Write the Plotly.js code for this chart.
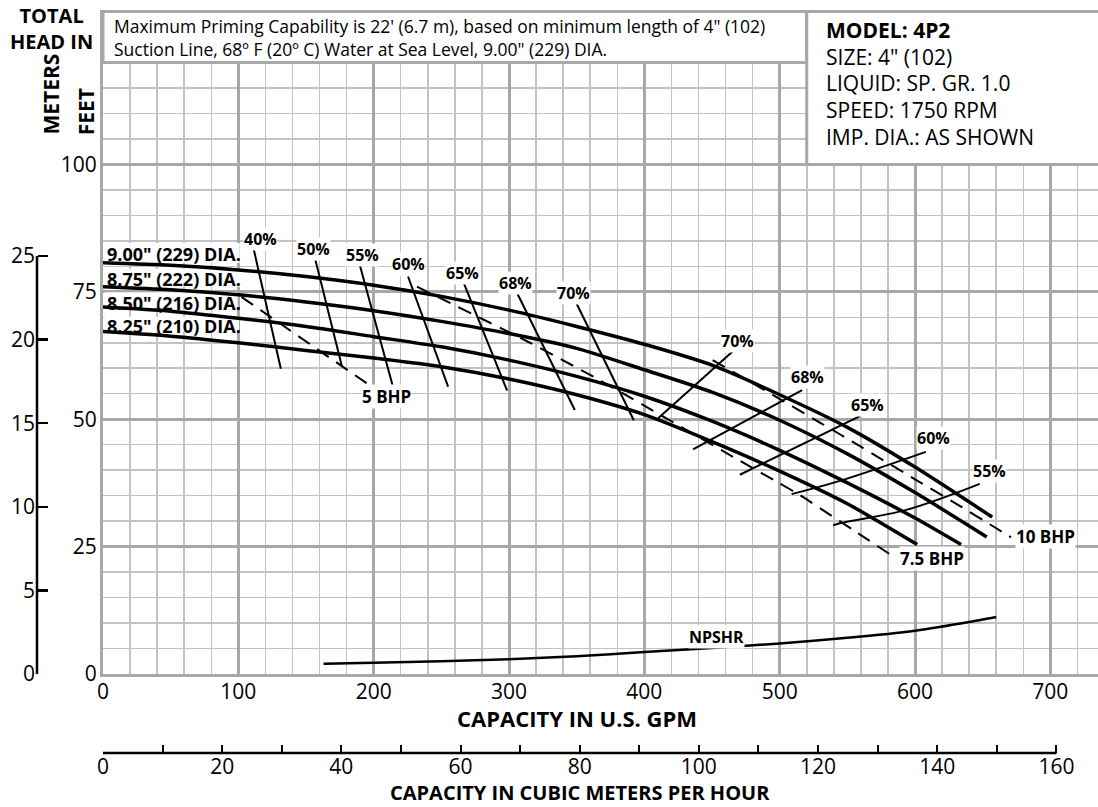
<!DOCTYPE html>
<html><head><meta charset="utf-8">
<script src="https://cdn.plot.ly/plotly-3.0.1.min.js"></script>
<style>html,body{margin:0;padding:0;background:#fff}</style>
</head><body><div id="chart" style="width:1098px;height:807px"></div>
<script>
// ---------- data ----------
const diameterLabels = ['9.00" (229) DIA.', '8.75" (222) DIA.', '8.50" (216) DIA.', '8.25" (210) DIA.'];
const q900 = [0, 50, 100, 150, 200, 250, 300, 350, 400, 450, 500, 550, 600, 657];
const h900 = [80.7, 80.2, 79.3, 78.0, 76.3, 74.1, 71.4, 68.2, 64.7, 60.6, 54.8, 48.4, 40.6, 30.8];
const q875 = [0, 50, 100, 150, 200, 250, 300, 350, 400, 450, 500, 550, 600, 653];
const h875 = [76.0, 75.4, 74.4, 73.0, 71.3, 69.2, 66.8, 63.9, 59.7, 55.3, 49.8, 43.2, 35.6, 26.9];
const q850 = [0, 50, 100, 150, 200, 250, 300, 350, 400, 450, 500, 550, 600, 634];
const h850 = [72.0, 71.2, 69.8, 68.2, 66.2, 64.2, 61.6, 58.4, 54.5, 49.6, 43.9, 37.5, 30.6, 25.4];
const q825 = [0, 50, 100, 150, 200, 250, 300, 350, 400, 450, 500, 550, 601.6];
const h825 = [67.2, 66.3, 65.0, 63.5, 62.0, 60.3, 57.9, 54.8, 50.9, 45.6, 39.8, 33.4, 25.4];
const diaQ = [q900, q875, q850, q825];
const diaH = [h900, h875, h850, h825];

const effLabels = ['40%', '50%', '55%', '60%', '65%', '68%', '70%', '70%', '68%', '65%', '60%', '55%'];
const effQ = [[110.9, 131.4], [157, 176.6], [189.7, 213.9], [225.4, 255], [266.6, 298.6], [305.5, 348.6], [349.9, 392.2],
              [410.2, 465.6], [436, 516.6], [470.6, 559.3], [508.8, 544.4, 608], [539.5, 544.4, 593.6, 647.8]];
const effH = [[83.9, 59.9], [81.2, 60.3], [80.3, 56.7], [78.0, 56.4], [76.7, 55.6], [75.0, 51.8], [72.7, 49.8],
              [50.2, 63.4], [44.1, 55.7], [39.1, 50.6], [35.3, 37.9, 43.6], [29.2, 29.6, 32.2, 37.3]];
const effLabelQ = [116.5, 155.7, 191.5, 226, 265.5, 304.8, 347.8, 468.7, 520.4, 564.8, 613.8, 655.3];
const effLabelH = [85.3, 83.4, 82.2, 80.5, 78.7, 76.7, 74.8, 65.3, 58.3, 52.8, 46.3, 39.8];

const bhpLabels = ['5 BHP', '7.5 BHP', '10 BHP'];
const bhp5Q = [102.3, 198.4];
const bhp5H = [74.0, 56.4];
const bhp75Q = [232, 314, 364.7, 399, 433.6, 465.6, 500, 515, 554, 581.4];
const bhp75H = [76.0, 65.2, 58.0, 52.8, 47.5, 42.6, 37.4, 35.1, 28.3, 23.5];
const bhp10Q = [450.5, 494, 530, 560, 600, 633, 660, 671];
const bhp10H = [61.6, 54.9, 49.3, 44.6, 38.2, 33.0, 28.6, 26.8];
const bhpLabelQ = [191, 588.3, 673.8];
const bhpLabelH = [54.5, 22.7, 26.9];

const npshQ = [163, 200, 250, 300, 350, 400, 450, 500, 550, 600, 640, 660];
const npshH = [2.0, 2.2, 2.5, 2.9, 3.5, 4.3, 5.1, 6.0, 7.1, 8.5, 10.2, 11.2];

const gpmTicks = [0, 100, 200, 300, 400, 500, 600, 700];
const feetTicks = [0, 25, 50, 75, 100];
const meterTicks = [0, 5, 10, 15, 20, 25];

const noteLines = ['Maximum Priming Capability is 22\' (6.7 m), based on minimum length of 4" (102)',
                   'Suction Line, 68º F (20º C) Water at Sea Level, 9.00" (229) DIA.'];
const modelLines = ['<b>MODEL: 4P2</b>', 'SIZE: 4" (102)', 'LIQUID: SP. GR. 1.0', 'SPEED: 1750 RPM', 'IMP. DIA.: AS SHOWN'];

// ---------- constants ----------
const FT_PER_M = 3.28084;
const GPM_PER_M3H = 4.40287;
const F = 'Open Sans, Noto Sans, sans-serif';
const GRID_MAJ = '#a8a8a8', GRID_MIN = '#c2c2c2';
const XMAX = 735.2, YMAX = 130.3;
// paper geometry helpers (margins l=37,t=10,b=54; plot area 1061 x 743)
const PW = 1061, PH = 743;
const px2paperX = p => (p - 37) / PW;
const py2paperY = p => (753 - p) / PH;

const traces = [];
effQ.forEach((q, i) => traces.push({x: q, y: effH[i], mode: 'lines', line: {color: '#000', width: 2, shape: q.length > 2 ? 'spline' : 'linear'}, hoverinfo: 'skip'}));
[[bhp5Q, bhp5H], [bhp75Q, bhp75H], [bhp10Q, bhp10H]].forEach(([q, h]) =>
  traces.push({x: q, y: h, mode: 'lines', line: {color: '#000', width: 2, dash: '14px,9px', shape: 'spline', smoothing: 0.5}, hoverinfo: 'skip'}));
diaQ.forEach((q, i) => traces.push({x: q, y: diaH[i], mode: 'lines', line: {color: '#000', width: 3.5, shape: 'spline', smoothing: 0.7}, hoverinfo: 'skip'}));
traces.push({x: npshQ, y: npshH, mode: 'lines', line: {color: '#000', width: 2.5, shape: 'spline', smoothing: 0.6}, hoverinfo: 'skip'});
// helper traces to register the secondary axes
traces.push({x: [0, 160], y: [null, null], xaxis: 'x2', yaxis: 'y', mode: 'lines', hoverinfo: 'skip'});
traces.push({x: [null, null], y: [0, 25], xaxis: 'x', yaxis: 'y2', mode: 'lines', hoverinfo: 'skip'});

const annotations = [];
const diaLabelH = [82.5, 77.5, 72.9, 68.2];
diameterLabels.forEach((t, i) => annotations.push({x: 1.3, y: diaLabelH[i], xref: 'x', yref: 'y', xanchor: 'left', yanchor: 'middle',
  text: '<b>' + t + '</b>', showarrow: false, font: {family: F, size: 18, color: '#000'}}));
effLabels.forEach((t, i) => annotations.push({x: effLabelQ[i], y: effLabelH[i], xref: 'x', yref: 'y', xanchor: 'center', yanchor: 'middle',
  text: '<b>' + t + '</b>', showarrow: false, bgcolor: '#fff', borderpad: 0, font: {family: F, size: 16, color: '#000'}}));
bhpLabels.forEach((t, i) => annotations.push({x: bhpLabelQ[i], y: bhpLabelH[i], xref: 'x', yref: 'y', xanchor: 'left', yanchor: 'middle',
  text: '<b>' + t + '</b>', showarrow: false, bgcolor: '#fff', borderpad: 0, font: {family: F, size: 17, color: '#000'}}));
annotations.push({x: 432.4, y: 7.2, xref: 'x', yref: 'y', xanchor: 'left', yanchor: 'middle', text: '<b>NPSHR</b>', showarrow: false,
  bgcolor: '#fff', borderpad: 0, font: {family: F, size: 16, color: '#000'}});
// note box: one two-line annotation
annotations.push({x: 7.2, y: 125.0, xref: 'x', yref: 'y', xanchor: 'left', yanchor: 'middle', align: 'left', text: noteLines.join('<br>'),
  showarrow: false, borderpad: 0, font: {family: F, size: 17.5, color: '#000'}});
const modelH = [126.4, 121.1, 116.0, 110.7, 105.4];
modelLines.forEach((t, i) => annotations.push({x: 533.4, y: modelH[i], xref: 'x', yref: 'y', xanchor: 'left', yanchor: 'middle', text: t,
  showarrow: false, borderpad: 0, font: {family: F, size: 21, color: '#000'}}));
// axis titles (paper coordinates)
const pa = (px, py, text, extra) => Object.assign({x: px2paperX(px), y: py2paperY(py), xref: 'paper', yref: 'paper',
  xanchor: 'center', yanchor: 'middle', text: text, showarrow: false, borderpad: 0, font: {family: F, size: 21, color: '#000'}}, extra || {});
annotations.push(pa(51.5, 28.5, '<b>TOTAL<br>HEAD IN</b>', {font: {family: F, size: 20, color: '#000'}}));
annotations.push(pa(50.5, 94, '<b>METERS</b>', {textangle: -90}));
annotations.push(pa(85.7, 111.5, '<b>FEET</b>', {textangle: -90}));
annotations.push(pa(576.5, 717.5, '<b>CAPACITY IN U.S. GPM</b>', {font: {family: F, size: 22, color: '#000'}}));
annotations.push(pa(580, 807, '<b>CAPACITY IN CUBIC METERS PER HOUR</b>', {yanchor: 'bottom', font: {family: F, size: 20, color: '#000'}}));

const shapes = [
  {type: 'rect', layer: 'between', xref: 'x', yref: 'y', x0: 1.2, x1: 101, y0: 80.7, y1: 84.6, fillcolor: '#fff', line: {width: 0}},
  {type: 'rect', layer: 'between', xref: 'x', yref: 'y', x0: 1.2, x1: 102.5, y0: 76.0, y1: 79.5, fillcolor: '#fff', line: {width: 0}},
  {type: 'rect', layer: 'between', xref: 'x', yref: 'y', x0: 1.2, x1: 99.5, y0: 72.0, y1: 74.9, fillcolor: '#fff', line: {width: 0}},
  {type: 'rect', layer: 'between', xref: 'x', yref: 'y', x0: 1.2, x1: 100.5, y0: 67.2, y1: 70.1, fillcolor: '#fff', line: {width: 0}},
  {type: 'rect', layer: 'above', xref: 'x', yref: 'y', x0: 0, x1: 520, y0: 120, y1: 130, fillcolor: '#fff', line: {color: GRID_MAJ, width: 3}},
  {type: 'rect', layer: 'above', xref: 'x', yref: 'y', x0: 520, x1: 760, y0: 100, y1: 130, fillcolor: '#fff', line: {color: GRID_MAJ, width: 3}},
  {type: 'line', xref: 'paper', yref: 'y2', x0: 0, x1: 0, y0: 0, y1: 25, line: {color: '#000', width: 2.5}},
  {type: 'line', xref: 'x2', yref: 'paper', x0: 0, x1: 160, y0: 0, y1: 0, line: {color: '#000', width: 2.5}}
];

const layout = {
  width: 1098, height: 807,
  margin: {l: 37, r: 0, t: 10, b: 54},
  paper_bgcolor: '#fff', plot_bgcolor: '#fff',
  showlegend: false,
  font: {family: F, color: '#000'},
  xaxis: {
    domain: [px2paperX(103), 1], range: [0, XMAX], anchor: 'y',
    tickmode: 'array', tickvals: gpmTicks, ticks: '', ticklabelstandoff: -3,
    tickfont: {family: F, size: 21, color: '#000'},
    showgrid: true, gridcolor: GRID_MAJ, gridwidth: 3,
    minor: {tickmode: 'linear', tick0: 0, dtick: 20, showgrid: true, gridcolor: GRID_MIN, gridwidth: 1.5},
    zeroline: false, showline: true, linecolor: GRID_MAJ, linewidth: 3
  },
  yaxis: {
    domain: [79 / PH, 1], range: [0, YMAX], anchor: 'x',
    tickmode: 'array', tickvals: feetTicks, ticks: '', ticklabelstandoff: -1,
    tickfont: {family: F, size: 21, color: '#000'},
    showgrid: true, gridcolor: GRID_MAJ, gridwidth: 3,
    minor: {tickmode: 'linear', tick0: 0, dtick: 5, showgrid: true, gridcolor: GRID_MIN, gridwidth: 1.5},
    zeroline: false, showline: true, linecolor: GRID_MAJ, linewidth: 3
  },
  yaxis2: {
    overlaying: 'y', anchor: 'free', position: 0, side: 'left',
    range: [0, YMAX / FT_PER_M],
    tickmode: 'array', tickvals: meterTicks, ticks: 'inside', ticklen: 10, tickwidth: 2.5, tickcolor: '#000',
    tickfont: {family: F, size: 21, color: '#000'}, ticklabelstandoff: 2,
    showgrid: false, zeroline: false, showline: false
  },
  xaxis2: {
    overlaying: 'x', anchor: 'free', position: 0, side: 'bottom',
    range: [0, XMAX / GPM_PER_M3H],
    tickmode: 'linear', tick0: 0, dtick: 20, ticks: 'inside', ticklen: 8, tickwidth: 2, tickcolor: '#000',
    minor: {tickmode: 'linear', tick0: 0, dtick: 10, ticks: 'inside', ticklen: 8, tickwidth: 2, tickcolor: '#000'},
    tickfont: {family: F, size: 21, color: '#000'}, ticklabelstandoff: -1,
    showgrid: false, zeroline: false, showline: false
  },
  shapes: shapes,
  annotations: annotations
};

Plotly.newPlot('chart', traces, layout, {displayModeBar: false, staticPlot: true});
</script>
</body></html>
